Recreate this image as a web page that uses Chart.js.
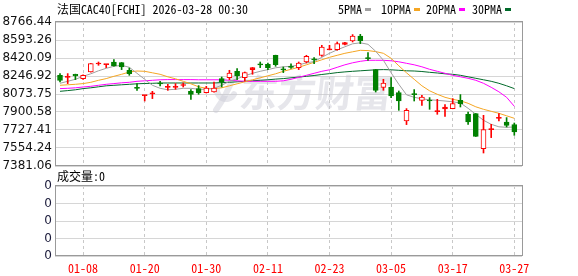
<!DOCTYPE html>
<html><head><meta charset="utf-8">
<script src="https://cdn.jsdelivr.net/npm/chart.js@4.4.1/dist/chart.umd.min.js"></script>
<style>
html,body{margin:0;padding:0;background:#fff;}
#wrap{position:relative;width:578px;height:276px;overflow:hidden;}
canvas{position:absolute;left:0;top:0;}
</style></head><body>
<div id="wrap"><canvas id="main" width="578" height="276"></canvas><canvas id="vol" width="578" height="276"></canvas></div>
<script>
const dates = ['01-05','01-06','01-07','01-08','01-09','01-12','01-13','01-14','01-15','01-16','01-19','01-20','01-21','01-22','01-23','01-26','01-27','01-28','01-29','01-30',
'02-02','02-03','02-04','02-05','02-06','02-09','02-10','02-11','02-12','02-13','02-16','02-17','02-18','02-19','02-20','02-23','02-24','02-25','02-26','02-27',
'03-02','03-03','03-04','03-05','03-06','03-09','03-10','03-11','03-12','03-13','03-16','03-17','03-18','03-19','03-20','03-23','03-24','03-25','03-26','03-27'];
const opens = [8253.6,8234.4,8263.3,8221.9,8285.4,8362.4,8356.6,8381.6,8375.8,8301.8,
8133.4,8058.3,8075.7,8173.8,8138.2,8138.2,8155.5,8099.7,8125.7,8087.2,
8093.0,8221.9,8231.5,8292.1,8231.5,8308.5,8359.5,8359.5,8446.1,8311.4,
8335.4,8327.7,8381.6,8407.6,8446.1,8499.0,8500.9,8551.9,8583.7,8631.8,
8417.2,8308.5,8138.2,8141.1,8087.2,7814.0,8070.9,8013.1,8008.3,7904.4,
7929.4,7933.3,8013.1,7878.4,7885.2,7548.4,7731.2,7839.9,7804.4,7779.3];
const highs = [8270.0,8270.0,8265.0,8258.5,8368.0,8381.6,8360.5,8404.7,8377.0,8323.9,
8173.8,8062.0,8099.7,8195.9,8167.1,8173.8,8179.6,8116.1,8154.5,8147.8,
8189.2,8237.3,8301.8,8318.1,8285.4,8329.0,8381.6,8372.0,8447.5,8333.5,
8364.3,8381.6,8446.1,8423.9,8542.3,8542.3,8574.1,8571.1,8645.2,8648.1,
8472.0,8310.0,8215.2,8231.5,8102.6,7933.3,8116.1,8061.2,8039.1,8022.7,
7971.7,8029.5,8068.0,7900.6,7886.0,7868.8,7782.2,7885.2,7846.7,7794.7];
const lows = [8189.2,8173.8,8212.3,8215.2,8284.0,8349.9,8327.7,8342.0,8308.5,8253.6,
8109.3,8006.4,8029.5,8150.7,8109.3,8119.0,8141.1,8022.7,8070.9,8083.4,
8092.0,8141.1,8212.3,8212.3,8198.8,8263.3,8327.7,8308.5,8340.2,8279.6,
8321.0,8308.5,8372.0,8366.2,8436.4,8498.0,8494.2,8547.1,8574.1,8558.6,
8398.0,8093.0,8109.3,8039.1,7916.9,7779.3,8006.4,7965.0,7926.5,7878.4,
7859.2,7931.4,7948.7,7782.2,7665.0,7506.1,7654.2,7814.0,7756.3,7676.4];
const closes = [8205.5,8239.2,8246.9,8253.6,8366.2,8366.2,8359.5,8343.2,8333.5,8270.0,
8128.6,8061.2,8077.6,8170.0,8141.1,8141.1,8157.4,8070.9,8083.4,8131.5,
8131.5,8189.2,8275.8,8246.9,8279.6,8327.7,8354.7,8327.7,8356.6,8306.6,
8330.6,8372.0,8436.4,8402.8,8526.0,8500.9,8558.6,8568.2,8631.8,8583.7,
8414.3,8109.3,8179.6,8054.5,8006.4,7916.9,8068.0,8044.9,8006.4,7907.3,
7948.7,7981.4,7981.4,7804.4,7666.8,7731.2,7734.1,7842.8,7772.6,7708.2];
const ma5 = [8176.7,8195.9,8215.2,8244.0,8268.1,8297.0,8321.0,8340.2,8349.9,8330.6,
8272.9,8215.2,8157.4,8128.6,8114.2,8119.0,8128.6,8128.6,8119.0,8119.0,
8128.6,8157.4,8195.9,8220.0,8248.8,8272.9,8292.1,8308.5,8325.8,8335.4,
8340.2,8352.8,8373.9,8385.4,8426.8,8465.3,8499.0,8527.9,8556.7,8566.3,
8551.9,8484.5,8398.0,8277.7,8167.1,8066.1,8042.0,8027.6,8018.0,8013.1,
8006.4,7998.7,7987.2,7936.2,7878.4,7820.7,7782.2,7758.2,7753.4,7756.3];
const ma10 = [8157.4,8162.3,8167.1,8173.8,8186.3,8205.5,8221.9,8244.0,8263.3,8285.4,
8295.0,8292.1,8277.7,8263.3,8239.2,8220.0,8195.9,8171.9,8143.0,8128.6,
8125.7,8133.4,8152.6,8171.9,8191.1,8210.4,8229.6,8248.8,8268.1,8292.1,
8311.4,8330.6,8354.7,8378.7,8402.8,8426.8,8446.1,8465.3,8479.7,8494.2,
8491.3,8481.6,8465.3,8417.2,8345.1,8277.7,8215.2,8152.6,8104.5,8070.9,
8042.0,8022.7,8008.3,7984.3,7950.6,7926.5,7907.3,7888.1,7864.0,7839.9];
const ma20 = [8125.7,8128.6,8133.4,8141.1,8147.8,8157.4,8167.1,8173.8,8181.5,8186.3,
8195.9,8200.7,8205.5,8210.4,8212.3,8212.3,8212.3,8212.3,8210.4,8210.4,
8210.4,8210.4,8205.5,8200.7,8195.9,8195.9,8195.9,8195.9,8195.9,8200.7,
8215.2,8234.4,8253.6,8272.9,8292.1,8306.6,8330.6,8354.7,8373.9,8388.3,
8398.0,8398.0,8398.0,8393.2,8383.5,8369.1,8354.7,8335.4,8311.4,8292.1,
8272.9,8253.6,8239.2,8224.8,8205.5,8176.7,8138.2,8094.9,8042.0,7955.4];
const ma30 = [8099.7,8106.4,8114.2,8125.7,8133.4,8143.0,8152.6,8157.4,8162.3,8167.1,
8171.9,8174.8,8176.7,8179.6,8179.6,8179.6,8179.6,8179.6,8179.6,8179.6,
8179.6,8183.4,8186.3,8191.1,8195.9,8200.7,8205.5,8210.4,8217.1,8221.9,
8229.6,8236.3,8244.0,8251.7,8261.4,8270.0,8279.6,8286.4,8292.1,8296.9,
8301.8,8306.6,8308.5,8306.6,8301.8,8296.9,8295.0,8290.2,8282.5,8275.8,
8268.1,8263.3,8253.6,8239.2,8224.8,8210.4,8195.9,8176.7,8152.6,8125.7];
const volumes = [0,0,0,0,0,0,0,0,0,0,0,0,0,0,0,0,0,0,0,0,
0,0,0,0,0,0,0,0,0,0,0,0,0,0,0,0,0,0,0,0,
0,0,0,0,0,0,0,0,0,0,0,0,0,0,0,0,0,0,0,0];
const yTickLabels = ['8766.44','8593.26','8420.09','8246.92','8073.75','7900.58','7727.41','7554.24','7381.06'];
const volTickLabels = ['0','0','0','0','0'];
const xTickLabels = ['01-08','01-20','01-30','02-11','02-23','03-05','03-17','03-27'];
const maNames = ['5PMA','10PMA','20PMA','30PMA'];
const titleText = '法国CAC40[FCHI] 2026-03-28 00:30';
const volumeText = '成交量:0';
const watermarkText = '东方财富';

const RED = '#ff0000', GREEN = '#008000';
const MA_COLORS = ['#a0a0a0', '#f5a623', '#ff00ff', '#006a2a'];
const MONO = "'Noto Sans Mono CJK SC','Liberation Mono',monospace";
const SANS = "'DejaVu Sans',sans-serif";
const xTickIdx = xTickLabels.map(l => dates.indexOf(l));
const yVals = yTickLabels.map(parseFloat);
const yMin = Math.min(...yVals), yMax = Math.max(...yVals);
const X_MIN = -0.65, X_MAX = 60;

const up = dates.map((d, i) => closes[i] >= opens[i]);
const bodyFill = dates.map((d, i) => up[i] ? (Math.abs(closes[i] - opens[i]) < 20 ? RED : '#ffffff') : GREEN);
const candleColor = dates.map((d, i) => up[i] ? RED : GREEN);

function fitText(ctx, text, x, y, maxW) {
  const w = ctx.measureText(text).width;
  if (w > maxW) {
    ctx.save(); ctx.translate(x, y); ctx.scale(maxW / w, 1); ctx.fillText(text, 0, 0); ctx.restore();
    return maxW;
  }
  ctx.fillText(text, x, y);
  return w;
}

const framePlugin = {
  id: 'frame',
  afterDraw(chart) {
    const { ctx, chartArea: a } = chart;
    ctx.save();
    ctx.strokeStyle = '#9a9a9a';
    ctx.lineWidth = 1;
    const x0 = Math.round(a.left) + 0.5, x1 = Math.round(a.right) + 0.5;
    const y0 = Math.round(a.top) - 0.5, y1 = Math.round(a.bottom) - 0.5;
    ctx.strokeRect(x0, y0, x1 - x0, y1 - y0);
    ctx.restore();
  }
};

const mainTextPlugin = {
  id: 'mainText',
  beforeDatasetsDraw(chart) {
    const { ctx } = chart;
    ctx.save();
    const wm = 'rgba(200,200,210,0.45)';
    ctx.strokeStyle = wm;
    ctx.lineWidth = 6;
    ctx.lineCap = 'round';
    ctx.beginPath();
    ctx.arc(226, 90, 9, Math.PI * 0.15, Math.PI * 1.45);
    ctx.stroke();
    ctx.beginPath();
    ctx.moveTo(233, 78);
    ctx.quadraticCurveTo(226, 96, 216, 110);
    ctx.stroke();
    ctx.fillStyle = wm;
    ctx.font = "bold 38px 'Noto Sans CJK SC'";
    ctx.textBaseline = 'middle';
    ctx.translate(240, 93);
    ctx.transform(1, 0, -0.12, 1, 0, 0);
    ctx.fillText(watermarkText, 0, 0);
    ctx.restore();
  },
  afterDraw(chart) {
    const { ctx } = chart;
    ctx.save();
    ctx.fillStyle = '#000';
    ctx.textBaseline = 'middle';
    ctx.font = '12px ' + MONO;
    fitText(ctx, titleText, 57, 9, 191);
    const lx = [338, 381, 426, 472];
    maNames.forEach((n, k) => {
      ctx.fillStyle = '#000';
      const w = fitText(ctx, n, lx[k], 9, n.length * 6);
      ctx.fillStyle = MA_COLORS[k];
      ctx.fillRect(Math.round(lx[k] + w + 3), 8, 6, 3);
    });
    ctx.fillStyle = '#000';
    fitText(ctx, volumeText, 57, 176, 48);
    ctx.restore();
  }
};

const lineDs = (data, color, label) => ({
  type: 'line', label, data: data.map((v, i) => ({ x: i, y: v })),
  borderColor: color, borderWidth: 1, pointRadius: 0, tension: 0, order: 3
});

new Chart(document.getElementById('main'), {
  data: {
    datasets: [
      { type: 'bar', label: 'body', data: dates.map((d, i) => ({ x: i, y: [opens[i], closes[i]] })),
        backgroundColor: bodyFill, borderColor: candleColor, borderWidth: 1, borderSkipped: false,
        barThickness: 5, minBarLength: 1, grouped: false, order: 0 },
      { type: 'bar', label: 'wick', data: dates.map((d, i) => ({ x: i, y: [lows[i], highs[i]] })),
        backgroundColor: candleColor, borderWidth: 0, barThickness: 1, grouped: false, order: 1 },
      lineDs(ma5, MA_COLORS[0], maNames[0]),
      lineDs(ma10, MA_COLORS[1], maNames[1]),
      lineDs(ma20, MA_COLORS[2], maNames[2]),
      lineDs(ma30, MA_COLORS[3], maNames[3])
    ]
  },
  options: {
    responsive: false, animation: false, devicePixelRatio: 1,
    layout: { padding: { top: 22, left: 0, right: 56, bottom: 110 } },
    plugins: { legend: { display: false }, tooltip: { enabled: false }, title: { display: false } },
    scales: {
      x: { type: 'linear', min: X_MIN, max: X_MAX, offset: false,
        afterBuildTicks: s => { s.ticks = xTickIdx.map(v => ({ value: v })); },
        ticks: { display: false },
        grid: { color: '#c8c8c8', drawTicks: false, lineWidth: 1, offset: false },
        border: { display: false, dash: [3, 3] },
        afterFit: s => { s.height = 0; } },
      y: { type: 'linear', min: yMin, max: yMax,
        afterBuildTicks: s => { s.ticks = yVals.slice().sort((a, b) => a - b).map(v => ({ value: v })); },
        ticks: { autoSkip: false, padding: 3, color: '#111', font: { family: SANS, size: 12 },
          callback: v => v.toFixed(2) },
        grid: { color: '#d6d6d6', drawTicks: false },
        border: { display: false },
        afterFit: s => { s.width = 55; } }
    }
  },
  plugins: [mainTextPlugin, framePlugin]
});

new Chart(document.getElementById('vol'), {
  data: {
    datasets: [
      { type: 'bar', label: 'volume', data: volumes.map((v, i) => ({ x: i, y: v })),
        backgroundColor: RED, barThickness: 5, grouped: false }
    ]
  },
  options: {
    responsive: false, animation: false, devicePixelRatio: 1,
    layout: { padding: { top: 186, left: 0, right: 56, bottom: 0 } },
    plugins: { legend: { display: false }, tooltip: { enabled: false } },
    scales: {
      x: { type: 'linear', min: X_MIN, max: X_MAX, offset: false,
        afterBuildTicks: s => { s.ticks = xTickIdx.map(v => ({ value: v })); },
        ticks: { autoSkip: false, maxRotation: 0, padding: 5, color: RED, font: { family: MONO, size: 12 },
          callback: v => dates[v] },
        grid: { color: '#c8c8c8', drawTicks: false, offset: false },
        border: { display: false, dash: [3, 3] },
        afterFit: s => { s.height = 20; } },
      y: { type: 'linear', min: 0, max: volTickLabels.length - 1,
        afterBuildTicks: s => { s.ticks = volTickLabels.map((l, k) => ({ value: k })); },
        ticks: { autoSkip: false, padding: 3, color: '#1a1a3a', font: { family: SANS, size: 12 },
          callback: (v, k) => volTickLabels[k] },
        grid: { color: '#d6d6d6', drawTicks: false },
        border: { display: false },
        afterFit: s => { s.width = 55; } }
    }
  },
  plugins: [framePlugin]
});
</script>
</body></html>
